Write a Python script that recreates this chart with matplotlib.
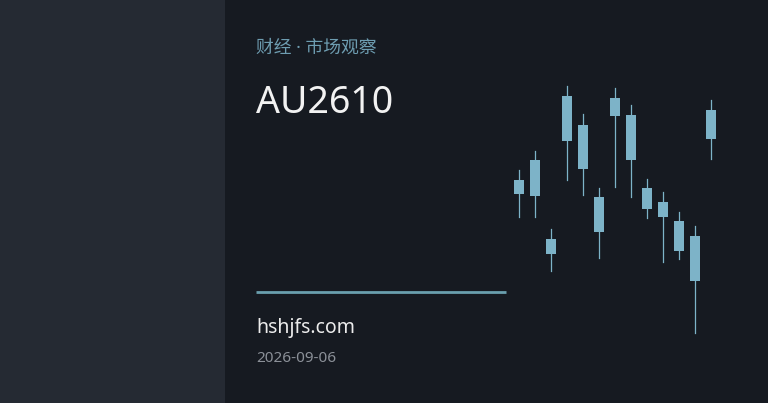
import matplotlib
matplotlib.use("Agg")
import matplotlib.pyplot as plt
from matplotlib.patches import Rectangle

plt.rcParams['font.family'] = ['Noto Sans', 'Noto Sans CJK SC', 'DejaVu Sans']

# candle data (arbitrary price units)
highs = [230, 249, 171, 314, 286, 212, 312, 295, 221, 208, 188, 174, 300]
lows = [183, 183, 129, 220, 205, 142, 213, 203, 182, 138, 141, 67, 241]
opens = [206, 204, 146, 259, 275, 168, 302, 285, 212, 198, 179, 164, 261]
closes = [220, 240, 161, 304, 231, 203, 284, 240, 191, 183, 149, 119, 290]

subtitle = "财经 · 市场观察"
symbol = "AU2610"
site = "hshjfs.com"
date = "2026-09-06"

W, H = 768, 403
fig = plt.figure(figsize=(W / 100, H / 100), dpi=100)
fig.patch.set_facecolor('#161a21')

# background / layout axes in pixel units
bg = fig.add_axes([0, 0, 1, 1])
bg.set_xlim(0, W)
bg.set_ylim(H, 0)
bg.axis('off')
bg.add_patch(Rectangle((0, 0), 225, H, color='#252a33', lw=0))
bg.add_patch(Rectangle((225, 0), W - 225, H, color='#161a21', lw=0))

bg.text(256, 48, subtitle, color='#6e9db1', fontsize=12.8, va='center', ha='left')
bg.text(256, 113, symbol, color='#f2f2f2', fontsize=27, va='baseline', ha='left')
bg.plot([256, 506], [292, 292], color='#6a9fae', lw=2, solid_capstyle='butt')
bg.text(256, 333, site, color='#ececec', fontsize=14, va='baseline', ha='left')
bg.text(256, 361.5, date, color='#8b9098', fontsize=11, va='baseline', ha='left')

# candlestick axes
ax = fig.add_axes([510.7 / W, (H - 360) / H, 208 / W, 300 / H])
ax.set_xlim(-0.5, 12.5)
ax.set_ylim(40, 340)
ax.axis('off')
ax.patch.set_alpha(0)

col = '#7db3c8'
for i in range(len(highs)):
    ax.plot([i, i], [lows[i], highs[i]], color=col, lw=0.9, zorder=1)
    lo = min(opens[i], closes[i])
    hi = max(opens[i], closes[i])
    ax.add_patch(Rectangle((i - 0.3, lo), 0.6, hi - lo, color=col, lw=0, zorder=2))

fig.savefig('out.png', dpi=100, facecolor=fig.get_facecolor())
